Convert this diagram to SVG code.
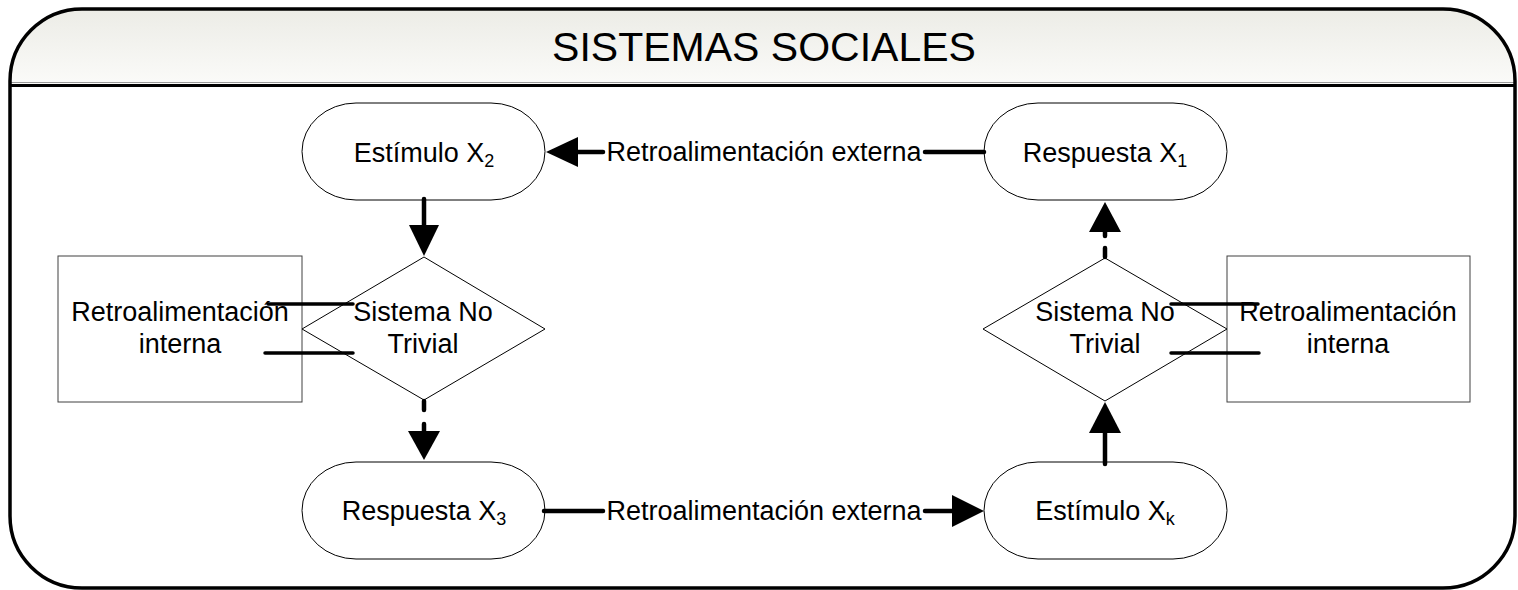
<svg xmlns="http://www.w3.org/2000/svg" width="1518" height="590" viewBox="0 0 1518 590">
<style>
text{font-family:"Liberation Sans",Arial,sans-serif;fill:#000}
.t{font-size:27px;text-anchor:middle}
.title{font-size:41px;text-anchor:middle}
.shape{fill:#fff;stroke:#000;stroke-width:1}
.term{fill:#fff;stroke:#000;stroke-width:1}
.box{fill:#fff;stroke:#404040;stroke-width:1}
.conn{stroke:#000;stroke-width:4.5;stroke-linecap:round;fill:none}
.inner{stroke:#000;stroke-width:3.5;stroke-linecap:round;fill:none}
.head{fill:#000;stroke:none}
</style>
<defs>
<linearGradient id="hdr" x1="0" y1="0" x2="0" y2="1">
<stop offset="0" stop-color="#ecece6"/>
<stop offset="1" stop-color="#fbfbf9"/>
</linearGradient>
</defs>
<rect width="1518" height="590" fill="#fff"/>
<g id="frame">
<path d="M10,85 V81 A72,72 0 0 1 82,9 H1443 A72,72 0 0 1 1515,81 V85 Z" fill="url(#hdr)"/>
<line x1="10" y1="82.5" x2="1515" y2="82.5" stroke="#9a9a9a" stroke-width="1"/>
<line x1="10" y1="85.5" x2="1515" y2="85.5" stroke="#000" stroke-width="3"/>
<rect x="10" y="9" width="1505" height="579" rx="72" ry="72" fill="none" stroke="#000" stroke-width="3.5"/>
<text class="title" x="764" y="61">SISTEMAS SOCIALES</text>
</g>
<g id="rect-left">
<rect class="box" x="58" y="256" width="244" height="146"/>
<text class="t" x="180" y="321">Retroalimentación</text>
<text class="t" x="180" y="353">interna</text>
</g>
<g id="rect-right">
<rect class="box" x="1227" y="256" width="243" height="146"/>
<text class="t" x="1348" y="321">Retroalimentación</text>
<text class="t" x="1348" y="353">interna</text>
</g>
<g id="diamond-left">
<polygon class="shape" points="424,257 545,329 424,400 302,329"/>
<text class="t" x="423" y="321">Sistema No</text>
<text class="t" x="423" y="353">Trivial</text>
</g>
<g id="diamond-right">
<polygon class="shape" points="1105,258 1227,329 1105,401 983,329"/>
<text class="t" x="1105" y="321">Sistema No</text>
<text class="t" x="1105" y="353">Trivial</text>
</g>
<g id="estimulo-x2">
<rect class="term" x="302" y="103" width="243" height="97" rx="54" ry="48.5"/>
<text class="t" x="424" y="162">Estímulo X<tspan font-size="18" dy="5">2</tspan></text>
</g>
<g id="respuesta-x1">
<rect class="term" x="984" y="103" width="243" height="97" rx="54" ry="48.5"/>
<text class="t" x="1105" y="162">Respuesta X<tspan font-size="18" dy="5">1</tspan></text>
</g>
<g id="respuesta-x3">
<rect class="term" x="302" y="462" width="243" height="97" rx="54" ry="48.5"/>
<text class="t" x="424" y="520">Respuesta X<tspan font-size="18" dy="5">3</tspan></text>
</g>
<g id="estimulo-xk">
<rect class="term" x="984" y="462" width="243" height="97" rx="54" ry="48.5"/>
<text class="t" x="1105" y="520">Estímulo X<tspan font-size="18" dy="5">k</tspan></text>
</g>
<g id="connectors">
<line class="conn" x1="984" y1="152" x2="925" y2="152"/>
<line class="conn" x1="603" y1="152" x2="576" y2="152" stroke-linecap="butt"/>
<polygon class="head" points="546,152 578,137 578,167"/>
<text class="t" x="764" y="161">Retroalimentación externa</text>
<line class="conn" x1="544" y1="511" x2="603" y2="511"/>
<line class="conn" x1="925" y1="511" x2="954" y2="511" stroke-linecap="butt"/>
<polygon class="head" points="984,511 952,495 952,527"/>
<text class="t" x="764" y="520">Retroalimentación externa</text>
<line class="conn" x1="424" y1="199" x2="424" y2="228" stroke-linecap="butt"/>
<polygon class="head" points="424,256 409,225 439,225"/>
<line class="conn" x1="424" y1="401" x2="424" y2="410"/>
<line class="conn" x1="424" y1="424" x2="424" y2="434"/>
<polygon class="head" points="424,460 408,431 440,431"/>
<line class="conn" x1="1105" y1="464" x2="1105" y2="431" stroke-linecap="butt"/>
<polygon class="head" points="1105,402 1089,433 1121,433"/>
<line class="conn" x1="1105" y1="257" x2="1105" y2="248"/>
<line class="conn" x1="1105" y1="236" x2="1105" y2="230"/>
<polygon class="head" points="1105,202 1089,232 1121,232"/>
<line class="inner" x1="268" y1="304" x2="353" y2="304"/>
<line class="inner" x1="265" y1="353" x2="353" y2="353"/>
<line class="inner" x1="1171" y1="304" x2="1258" y2="304"/>
<line class="inner" x1="1171" y1="353" x2="1259" y2="353"/>
</g>
</svg>
